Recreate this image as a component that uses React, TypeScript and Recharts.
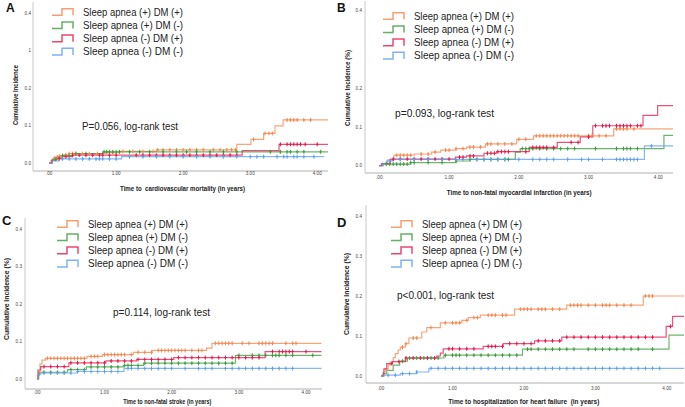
import React from 'react';
import { LineChart, Line, XAxis, YAxis, Legend } from 'recharts';

type Step = [number, number];

// ---------- shared labels ----------
const seriesNames = ['Sleep apnea (+) DM (+)', 'Sleep apnea (+) DM (-)', 'Sleep apnea (-) DM (+)', 'Sleep apnea (-) DM (-)'];
const seriesColors = ['#F5874F', '#3C9C3C', '#E3194B', '#5E9FEF'];
const xTickValues = [0, 1, 2, 3, 4];
const xTickLabels = ['.00', '1.00', '2.00', '3.00', '4.00'];

// ---------- Panel A : cardiovascular mortality ----------
const aYTicks = [0, 0.1, 0.2, 0.3, 0.4];
const aYTickLabels = ['0.0', '0.1', '0.2', '1', '0.4'];
const aOrangeSteps: Step[] = [[0, 0], [0.03, 0.008], [0.06, 0.013], [0.1, 0.016], [0.15, 0.019], [0.22, 0.022], [0.3, 0.025], [0.8, 0.028], [1.05, 0.031], [1.6, 0.035], [2.8, 0.05], [3.01, 0.063], [3.2, 0.079], [3.37, 0.099], [3.49, 0.115]];
const aOrangeCensor = [0.08, 0.12, 0.16, 0.2, 0.25, 0.3, 0.35, 0.4, 0.5, 0.6, 0.72, 0.85, 0.95, 1.1, 1.25, 1.4, 1.55, 1.62, 1.7, 1.8, 1.9, 2.0, 2.1, 2.2, 2.3, 2.45, 2.55, 2.65, 2.72, 2.78, 3.05, 3.22, 3.28, 3.33, 3.55, 3.6, 3.65, 3.7, 3.8, 3.9];
const aGreenSteps: Step[] = [[0, 0], [0.05, 0.01], [0.12, 0.015], [0.2, 0.02], [0.35, 0.025], [0.8, 0.03]];
const aGreenCensor = [0.1, 0.2, 0.3, 0.4, 0.55, 0.82, 0.86, 0.9, 0.95, 1.0, 1.05, 1.2, 1.35, 1.5, 1.7, 1.9, 2.05, 2.2, 2.4, 2.6, 2.8, 3.3, 3.45, 3.55, 3.6, 3.7, 3.8, 4.05];
const aRedSteps: Step[] = [[0, 0], [0.04, 0.007], [0.1, 0.012], [0.2, 0.017], [0.35, 0.021], [2.88, 0.033], [3.43, 0.05]];
const aRedCensor = [0.15, 0.25, 0.35, 0.45, 0.55, 0.65, 0.75, 0.8, 0.9, 1.0, 1.3, 1.4, 1.5, 1.6, 1.7, 1.8, 1.9, 2.0, 2.1, 2.2, 2.3, 2.4, 2.5, 2.6, 2.7, 2.8, 3.45, 3.55, 3.6, 3.65, 3.7, 3.75, 3.82, 4.0];
const aBlueSteps: Step[] = [[0, 0], [0.05, 0.006], [0.15, 0.011], [1.08, 0.017]];
const aBlueCensor = [0.2, 0.3, 0.4, 0.5, 0.6, 0.7, 0.75, 0.8, 0.9, 1.0, 1.2, 1.4, 1.6, 1.8, 2.0, 2.2, 2.4, 2.6, 2.8, 3.0, 3.1, 3.2, 3.4, 3.5, 3.55, 3.65, 3.7, 3.8, 3.95];

// ---------- Panel B : non-fatal myocardial infarction ----------
const bYTicks = [0, 0.1, 0.2, 0.4];
const bYTickLabels = ['0.0', '0.1', '0.2', '0.4'];
const bOrangeSteps: Step[] = [[0, 0], [0.05, 0.005], [0.12, 0.015], [0.21, 0.027], [0.5, 0.03], [0.75, 0.035], [0.88, 0.04], [1.1, 0.044], [1.25, 0.048], [1.52, 0.056], [1.97, 0.068], [2.21, 0.077], [3.36, 0.095]];
const bOrangeCensor = [0.25, 0.3, 0.35, 0.4, 0.45, 0.6, 0.7, 0.8, 0.95, 1.0, 1.1, 1.2, 1.3, 1.35, 1.45, 1.55, 1.6, 1.7, 1.8, 1.9, 2.0, 2.1, 2.25, 2.3, 2.35, 2.4, 2.45, 2.5, 2.55, 2.6, 2.65, 2.7, 2.75, 2.8, 2.85, 3.0, 3.05, 3.15, 3.25, 3.4, 3.45, 3.5, 3.55, 3.65];
const bGreenSteps: Step[] = [[0, 0], [0.05, 0.004], [0.45, 0.008], [1.1, 0.012], [1.3, 0.016], [1.95, 0.035], [2.02, 0.044], [4.08, 0.078]];
const bGreenCensor = [0.1, 0.15, 0.2, 0.25, 0.3, 0.35, 0.4, 0.45, 0.5, 0.7, 0.9, 1.1, 1.3, 1.4, 1.5, 1.6, 1.7, 1.8, 1.85, 2.05, 2.1, 2.15, 2.2, 2.3, 2.4, 2.5, 2.6, 2.7, 2.8, 3.1, 3.4, 3.5, 3.55, 3.6, 3.7];
const bRedSteps: Step[] = [[0, 0], [0.03, 0.005], [0.16, 0.017], [1.09, 0.022], [1.25, 0.025], [1.5, 0.032], [1.68, 0.036], [2.15, 0.047], [2.55, 0.06], [2.88, 0.074], [3.06, 0.103], [3.78, 0.13], [3.99, 0.155]];
const bRedCensor = [0.2, 0.3, 0.4, 0.5, 0.6, 0.7, 0.8, 0.9, 1.0, 1.15, 1.2, 1.3, 1.35, 1.55, 1.6, 1.65, 1.7, 1.75, 1.8, 1.85, 2.1, 2.2, 2.25, 2.3, 2.35, 2.4, 2.5, 2.75, 2.85, 3.0, 3.1, 3.2, 3.25, 3.3, 3.4, 3.45, 3.5, 3.55, 3.6, 3.7, 3.75];
const bBlueSteps: Step[] = [[0, 0], [0.05, 0.006], [0.1, 0.012], [0.2, 0.016], [3.8, 0.051]];
const bBlueCensor = [0.15, 0.3, 0.5, 0.7, 0.9, 1.1, 1.2, 1.4, 1.5, 1.6, 1.7, 1.8, 2.0, 2.2, 2.3, 2.4, 2.5, 2.7, 2.9, 3.0, 3.2, 3.4, 3.45, 3.5, 3.55, 3.6, 3.65, 3.7, 3.9];

// ---------- Panel C : non-fatal stroke ----------
const cYTicks = [0, 0.1, 0.2, 0.3, 0.4];
const cYTickLabels = ['0.0', '0.1', '0.2', '0.3', '0.4'];
const cOrangeSteps: Step[] = [[0, 0], [0.02, 0.02], [0.04, 0.04], [0.07, 0.05], [0.12, 0.055], [0.74, 0.06], [0.97, 0.065], [1.43, 0.071], [1.71, 0.076], [2.52, 0.082], [2.6, 0.095]];
const cOrangeCensor = [0.15, 0.2, 0.25, 0.3, 0.35, 0.4, 0.45, 0.5, 0.55, 0.6, 0.65, 0.7, 0.8, 0.85, 0.9, 1.0, 1.05, 1.1, 1.15, 1.2, 1.25, 1.3, 1.4, 1.5, 1.6, 1.7, 1.8, 1.85, 1.9, 1.95, 2.0, 2.05, 2.1, 2.15, 2.2, 2.3, 2.4, 2.45, 2.65, 2.7, 2.75, 2.8, 2.85, 2.9, 3.05, 3.15, 3.3, 3.35, 3.4, 3.45, 3.5, 3.7, 3.8, 3.85];
const cGreenSteps: Step[] = [[0, 0], [0.01, 0.01], [0.03, 0.018], [0.45, 0.025], [0.73, 0.032], [1.28, 0.036], [1.58, 0.042], [2.95, 0.063]];
const cGreenCensor = [0.1, 0.2, 0.3, 0.4, 0.5, 0.6, 0.7, 0.8, 0.9, 1.0, 1.1, 1.2, 1.3, 1.35, 1.4, 1.5, 1.6, 1.7, 1.8, 1.9, 2.0, 2.1, 2.2, 2.3, 2.4, 2.5, 2.6, 2.7, 2.8, 2.9, 3.0, 3.2, 3.3, 3.4, 3.5, 3.55, 3.6, 3.7, 3.8, 4.1];
const cRedSteps: Step[] = [[0, 0], [0.01, 0.024], [0.05, 0.033], [0.47, 0.043], [1.02, 0.048], [1.48, 0.052], [2.03, 0.057], [3.39, 0.073]];
const cRedCensor = [0.1, 0.2, 0.3, 0.4, 0.5, 0.6, 0.7, 0.8, 0.9, 1.0, 1.1, 1.2, 1.3, 1.4, 1.5, 1.6, 1.7, 1.8, 1.9, 2.0, 2.1, 2.2, 2.3, 2.4, 2.5, 2.6, 2.7, 2.8, 2.9, 3.0, 3.1, 3.2, 3.3, 3.5, 3.6, 3.65, 3.7, 3.75, 3.8, 4.0];
const cBlueSteps: Step[] = [[0, 0], [0.02, 0.012], [0.05, 0.016], [0.6, 0.02], [1.29, 0.028]];
const cBlueCensor = [0.1, 0.2, 0.3, 0.4, 0.5, 0.6, 0.7, 0.8, 0.9, 1.0, 1.1, 1.2, 1.35, 1.4, 1.5, 1.6, 1.7, 1.8, 1.9, 2.0, 2.2, 2.4, 2.5, 2.6, 2.8, 2.9, 3.0, 3.1, 3.2, 3.3, 3.4, 3.5, 3.6, 3.7, 3.8];

// ---------- Panel D : hospitalization for heart failure ----------
const dYTicks = [0, 0.1, 0.2, 0.3, 0.4];
const dYTickLabels = ['0.0', '0.1', '0.2', '0.3', '0.4'];
const dOrangeSteps: Step[] = [[0, 0], [0.03, 0.01], [0.06, 0.018], [0.1, 0.028], [0.13, 0.035], [0.17, 0.046], [0.2, 0.056], [0.24, 0.065], [0.27, 0.072], [0.34, 0.081], [0.39, 0.095], [0.57, 0.11], [0.64, 0.121], [0.83, 0.133], [1.13, 0.139], [1.22, 0.146], [1.39, 0.152], [1.87, 0.167], [2.6, 0.177], [3.67, 0.2]];
const dOrangeCensor = [0.3, 0.35, 0.45, 0.5, 0.7, 0.9, 1.0, 1.05, 1.1, 1.2, 1.3, 1.35, 1.5, 1.55, 1.6, 1.7, 1.75, 1.95, 2.0, 2.05, 2.1, 2.2, 2.25, 2.3, 2.4, 2.5, 2.65, 2.7, 2.75, 2.8, 2.9, 3.0, 3.1, 3.15, 3.2, 3.3, 3.4, 3.5, 3.7, 3.75, 3.8];
const dGreenSteps: Step[] = [[0, 0], [0.03, 0.006], [0.08, 0.014], [0.17, 0.027], [0.26, 0.037], [0.37, 0.045], [0.88, 0.052], [1.98, 0.067], [4.03, 0.102]];
const dGreenCensor = [0.3, 0.4, 0.5, 0.6, 0.7, 0.8, 0.9, 1.0, 1.05, 1.1, 1.2, 1.3, 1.4, 1.5, 1.6, 1.7, 1.8, 1.9, 2.05, 2.1, 2.2, 2.3, 2.4, 2.5, 2.6, 2.7, 2.9, 3.0, 3.1, 3.2, 3.3, 3.4, 3.5, 3.6, 3.8];
const dRedSteps: Step[] = [[0, 0], [0.04, 0.018], [0.08, 0.031], [0.16, 0.036], [0.34, 0.045], [0.78, 0.05], [0.83, 0.057], [0.87, 0.068], [1.43, 0.074], [1.71, 0.081], [2.15, 0.088], [2.53, 0.097], [3.99, 0.124], [4.08, 0.149]];
const dRedCensor = [0.15, 0.25, 0.35, 0.45, 0.55, 0.65, 0.75, 0.95, 1.0, 1.1, 1.2, 1.3, 1.5, 1.55, 1.6, 1.7, 1.8, 1.9, 2.0, 2.1, 2.2, 2.3, 2.4, 2.5, 2.6, 2.7, 2.8, 2.9, 3.0, 3.1, 3.2, 3.3, 3.4, 3.5, 3.6, 3.7, 3.8, 4.05];
const dBlueSteps: Step[] = [[0, 0], [0.04, 0.002], [0.27, 0.006], [0.5, 0.01], [0.67, 0.019]];
const dBlueCensor = [0.1, 0.2, 0.3, 0.4, 0.5, 0.7, 0.8, 0.9, 1.0, 1.1, 1.2, 1.3, 1.4, 1.5, 1.6, 1.7, 1.8, 1.9, 2.0, 2.1, 2.2, 2.3, 2.4, 2.5, 2.6, 2.7, 2.8, 2.9, 3.0, 3.1, 3.2, 3.3, 3.4, 3.5, 3.6, 3.7, 3.8, 3.9];

// ---------- helpers ----------
type Pt = { t: number; v: number; c: number };

function stepValue(steps: Step[], t: number): number {
  let v = 0;
  for (const [st, sv] of steps) if (st <= t) v = sv;
  return v;
}

function buildKM(steps: Step[], censor: number[], end: number): Pt[] {
  const pts: Pt[] = steps.map(([t, v]) => ({ t, v, c: 0 }));
  censor.forEach((t) => pts.push({ t, v: stepValue(steps, t), c: 1 }));
  pts.push({ t: end, v: stepValue(steps, end), c: 0 });
  pts.sort((a, b) => a.t - b.t || a.c - b.c);
  return pts;
}

const makeCensorDot = (color: string) => (props: any) => {
  const { cx, cy, payload, index } = props;
  if (!payload || !payload.c || cx == null || cy == null) return <g key={`n${index}`} />;
  return (
    <path
      key={`c${index}`}
      d={`M${cx},${cy - 2}V${cy + 2}M${cx - 1.3},${cy}H${cx + 1.3}`}
      stroke={color}
      strokeWidth={1}
      fill="none"
    />
  );
};

const LegendBox = () => (
  <svg width={140} height={56} style={{ display: 'block', overflow: 'visible' }}>
    {seriesNames.map((name, i) => {
      const cy = 6 + i * 13.2;
      return (
        <g key={name}>
          <path d={`M0,${cy + 3.3}H10V${cy - 3.3}H21V${cy + 3.3}`} stroke={seriesColors[i]} strokeOpacity={0.8} strokeWidth={1.5} fill="none" />
          <text x={31} y={cy + 3.7} fontSize={10.5} fontFamily="Liberation Sans, Arial, sans-serif" fill="#222" textLength={100} lengthAdjust="spacingAndGlyphs">
            {name}
          </text>
        </g>
      );
    })}
  </svg>
);

type PanelProps = {
  left: number; top: number; width: number; height: number;
  margin: { top: number; right: number; left: number; bottom: number };
  yAxisWidth: number; xAxisHeight: number;
  xDomain: [number, number]; yDomain: [number, number];
  yTicks: number[]; yTickLabels: string[];
  xTickMargin: number; yTickMargin: number;
  series: Pt[][];
  legendLeft: number; legendTop: number;
};

function Panel(p: PanelProps) {
  const tickStyle = { fontSize: 4.6, fill: '#444', fontFamily: 'Liberation Sans, Arial, sans-serif' };
  return (
    <div style={{ position: 'absolute', left: p.left, top: p.top, width: p.width, height: p.height }}>
      <LineChart width={p.width} height={p.height} margin={p.margin}>
        <XAxis
          type="number" dataKey="t" domain={p.xDomain} ticks={xTickValues} interval={0}
          allowDataOverflow tickLine={false} tickSize={0} tickMargin={p.xTickMargin}
          height={p.xAxisHeight} axisLine={{ stroke: '#b0b0b0' }} tick={tickStyle}
          tickFormatter={(v: number) => xTickLabels[xTickValues.indexOf(v)] ?? ''}
        />
        <YAxis
          type="number" domain={p.yDomain} ticks={p.yTicks} interval={0}
          allowDataOverflow tickLine={false} tickSize={0} tickMargin={p.yTickMargin}
          width={p.yAxisWidth} axisLine={{ stroke: '#c8c8c8' }} tick={tickStyle}
          tickFormatter={(v: number) => p.yTickLabels[p.yTicks.indexOf(v)] ?? ''}
        />
        {p.series.map((data, i) => (
          <Line
            key={seriesNames[i]} name={seriesNames[i]} data={data} dataKey="v" type="stepAfter"
            stroke={seriesColors[i]} strokeOpacity={0.75} strokeWidth={1.2}
            dot={makeCensorDot(seriesColors[i])} activeDot={false} isAnimationActive={false}
          />
        ))}
        <Legend
          layout="vertical" align="center" verticalAlign="middle"
          wrapperStyle={{ position: 'absolute', left: p.legendLeft, top: p.legendTop, width: 140, height: 56 }}
          content={() => <LegendBox />}
        />
      </LineChart>
    </div>
  );
}

const FONT = 'Liberation Sans, Arial, sans-serif';

export default function App() {
  const aSeries = [buildKM(aOrangeSteps, aOrangeCensor, 4.16), buildKM(aGreenSteps, aGreenCensor, 4.16), buildKM(aRedSteps, aRedCensor, 4.16), buildKM(aBlueSteps, aBlueCensor, 4.1)];
  const bSeries = [buildKM(bOrangeSteps, bOrangeCensor, 4.21), buildKM(bGreenSteps, bGreenCensor, 4.21), buildKM(bRedSteps, bRedCensor, 4.21), buildKM(bBlueSteps, bBlueCensor, 4.21)];
  const cSeries = [buildKM(cOrangeSteps, cOrangeCensor, 4.23), buildKM(cGreenSteps, cGreenCensor, 4.23), buildKM(cRedSteps, cRedCensor, 4.23), buildKM(cBlueSteps, cBlueCensor, 4.23)];
  const dSeries = [buildKM(dOrangeSteps, dOrangeCensor, 4.24), buildKM(dGreenSteps, dGreenCensor, 4.24), buildKM(dRedSteps, dRedCensor, 4.24), buildKM(dBlueSteps, dBlueCensor, 4.24)];

  return (
    <div style={{ position: 'absolute', left: 0, top: 0, width: 685, height: 407, background: '#fff', overflow: 'hidden' }}>
      <Panel left={0} top={0} width={340} height={200} margin={{ top: 2, right: 12, left: 0, bottom: 0 }}
        yAxisWidth={33} xAxisHeight={29} xDomain={[-0.24, 4.16]} yDomain={[-0.0213, 0.43]}
        yTicks={aYTicks} yTickLabels={aYTickLabels} xTickMargin={1} yTickMargin={2}
        series={aSeries} legendLeft={52} legendTop={6} />
      <Panel left={340} top={0} width={345} height={200} margin={{ top: 1, right: 12, left: 0, bottom: 0 }}
        yAxisWidth={25} xAxisHeight={27} xDomain={[-0.205, 4.21]} yDomain={[-0.019, 0.425]}
        yTicks={bYTicks} yTickLabels={bYTickLabels} xTickMargin={3} yTickMargin={3}
        series={bSeries} legendLeft={43} legendTop={10} />
      <Panel left={0} top={200} width={340} height={207} margin={{ top: 18, right: 18, left: 0, bottom: 0 }}
        yAxisWidth={25} xAxisHeight={18} xDomain={[-0.183, 4.237]} yDomain={[-0.0267, 0.429]}
        yTicks={cYTicks} yTickLabels={cYTickLabels} xTickMargin={2} yTickMargin={3}
        series={cSeries} legendLeft={57} legendTop={18} />
      <Panel left={340} top={200} width={345} height={207} margin={{ top: 5, right: 1, left: 0, bottom: 0 }}
        yAxisWidth={26} xAxisHeight={24} xDomain={[-0.21, 4.24]} yDomain={[-0.0175, 0.4275]}
        yTicks={dYTicks} yTickLabels={dYTickLabels} xTickMargin={4} yTickMargin={4}
        series={dSeries} legendLeft={51} legendTop={18} />

      <svg width={685} height={407} style={{ position: 'absolute', left: 0, top: 0, pointerEvents: 'none' }}>
        {/* panel letters */}
        <text x={6} y={12} fontSize={12} fontWeight="bold" fontFamily={FONT} fill="#111">A</text>
        <text x={337} y={12} fontSize={12} fontWeight="bold" fontFamily={FONT} fill="#111">B</text>
        <text x={2} y={225} fontSize={13} fontWeight="bold" fontFamily={FONT} fill="#111">C</text>
        <text x={337} y={227} fontSize={13} fontWeight="bold" fontFamily={FONT} fill="#111">D</text>

        {/* log-rank annotations */}
        <text x={82} y={129.7} fontSize={10.5} fontFamily={FONT} fill="#222" textLength={96} lengthAdjust="spacingAndGlyphs">P=0.056, log-rank test</text>
        <text x={395} y={116.7} fontSize={10.5} fontFamily={FONT} fill="#222" textLength={99} lengthAdjust="spacingAndGlyphs">p=0.093, log-rank test</text>
        <text x={113} y={316.4} fontSize={10.5} fontFamily={FONT} fill="#222" textLength={97} lengthAdjust="spacingAndGlyphs">p=0.114, log-rank test</text>
        <text x={397} y={298.7} fontSize={10.5} fontFamily={FONT} fill="#222" textLength={97} lengthAdjust="spacingAndGlyphs">p&lt;0.001, log-rank test</text>

        {/* x axis titles */}
        <text x={120} y={190.5} fontSize={7} fontWeight="bold" fontFamily={FONT} fill="#222" textLength={125} lengthAdjust="spacingAndGlyphs" style={{ whiteSpace: 'pre' }}>Time to  cardiovascular mortality (in years)</text>
        <text x={446.7} y={194.5} fontSize={7} fontWeight="bold" fontFamily={FONT} fill="#222" textLength={145} lengthAdjust="spacingAndGlyphs">Time to non-fatal myocardial infarction (in years)</text>
        <text x={123.3} y={404.2} fontSize={7} fontWeight="bold" fontFamily={FONT} fill="#222" textLength={88} lengthAdjust="spacingAndGlyphs">Time to non-fatal stroke (in years)</text>
        <text x={448.3} y={404.2} fontSize={7} fontWeight="bold" fontFamily={FONT} fill="#222" textLength={151} lengthAdjust="spacingAndGlyphs" style={{ whiteSpace: 'pre' }}>Time to hospitalization for heart failure  (in years)</text>

        {/* y axis titles */}
        <text transform="translate(17.5,95) rotate(-90)" textAnchor="middle" fontSize={7} fontWeight="bold" fontFamily={FONT} fill="#222" textLength={60} lengthAdjust="spacingAndGlyphs">Cumulative Incidence</text>
        <text transform="translate(349.5,88) rotate(-90)" textAnchor="middle" fontSize={7} fontWeight="bold" fontFamily={FONT} fill="#222" textLength={76} lengthAdjust="spacingAndGlyphs">Cumulative Incidence (%)</text>
        <text transform="translate(8.5,299) rotate(-90)" textAnchor="middle" fontSize={7} fontWeight="bold" fontFamily={FONT} fill="#222" textLength={82} lengthAdjust="spacingAndGlyphs">Cumulative Incidence (%)</text>
        <text transform="translate(348.5,294) rotate(-90)" textAnchor="middle" fontSize={7} fontWeight="bold" fontFamily={FONT} fill="#222" textLength={82} lengthAdjust="spacingAndGlyphs">Cumulative Incidence (%)</text>
      </svg>
    </div>
  );
}
